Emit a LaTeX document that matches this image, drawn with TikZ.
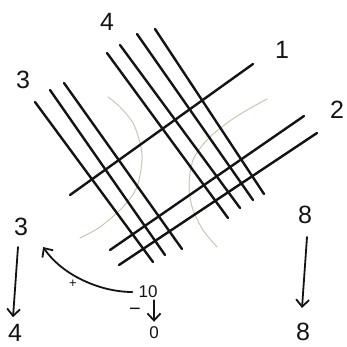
\documentclass[tikz,border=0pt]{standalone}
\usepackage{fontspec}
\setmainfont{Liberation Sans}
\usetikzlibrary{arrows.meta}
\definecolor{pencil}{RGB}{200,198,180}
\definecolor{ink}{RGB}{20,20,20}
\tikzset{
  stroke/.style={draw=ink, line width=2.4pt, line cap=round},
  faint/.style={draw=pencil, line width=1pt, line cap=round},
  lab/.style={inner sep=0pt, font=\fontsize{25}{25}\selectfont, text=ink},
  smalllab/.style={inner sep=0pt, font=\fontsize{17}{17}\selectfont, text=ink},
  arr/.style={draw=ink, line width=1.8pt, line cap=round,
    -{Straight Barb[length=7pt,width=13pt,line width=1.8pt]}}
}
\begin{document}
\begin{tikzpicture}[x=1pt,y=-1pt]
\useasboundingbox[fill=white] (0,0) rectangle (346,347);
% faint pencil curves
\draw[faint] plot[smooth] coordinates {(108,97) (120,107) (133,123) (140,143) (142,160) (137,187) (123,207) (100,227) (80,238)};
\draw[faint] plot[smooth] coordinates {(267,99) (247,110) (227,123) (207,140) (193,160) (189,187) (193,210) (203,230) (217,247)};
% group 3
\draw[stroke] (35,102) -- (153,262);
\draw[stroke] (50,90) -- (165,255);
\draw[stroke] (64,83) -- (182,249);
% group 4
\draw[stroke] (107,53) -- (228,218);
\draw[stroke] (120,45) -- (240,208);
\draw[stroke] (137,34) -- (253,200);
\draw[stroke] (155,29) -- (264,194);
% line 1
\draw[stroke] (70,195) -- (253,64);
% group 2
\draw[stroke] (110,250) -- (304,116);
\draw[stroke] (119,265) -- (317,133);
% labels
\node[lab] (t4) at (107,22) {4};
\node[lab] (t1) at (282,50) {1};
\node[lab] (t3) at (23,80) {3};
\node[lab] (t2) at (337,110) {2};
\node[lab] (l3b) at (21,227) {3};
\node[lab] (l4b) at (15,333) {4};
\node[lab] (r8a) at (305,215) {8};
\node[lab] (r8b) at (303,332) {8};
\node[smalllab] (n10) at (148,292) {10};
\node[inner sep=0pt, font=\fontsize{20}{20}\selectfont, text=ink] (nminus) at (135,312) {−};
\node[smalllab] (nzero) at (154,333) {0};
\node[inner sep=0pt, font=\fontsize{13}{13}\selectfont, text=ink] (nplus) at (73,284) {+};
% arrows
\draw[arr] ([xshift=-3pt,yshift=-11pt]l3b.south) -- ([xshift=-2pt,yshift=7pt]l4b.north);
\draw[arr] ([xshift=2pt,yshift=-13pt]r8a.south) -- ([xshift=-1pt,yshift=15pt]r8b.north);
\draw[arr] ([xshift=6pt,yshift=-2pt]n10.south) -- ([yshift=5pt]nzero.north);
\draw[arr] ([xshift=-6pt,yshift=0pt]n10.west) .. controls (100,292) and (62,275) .. ([xshift=15pt,yshift=-11pt]l3b.south east);
\end{tikzpicture}
\end{document}
